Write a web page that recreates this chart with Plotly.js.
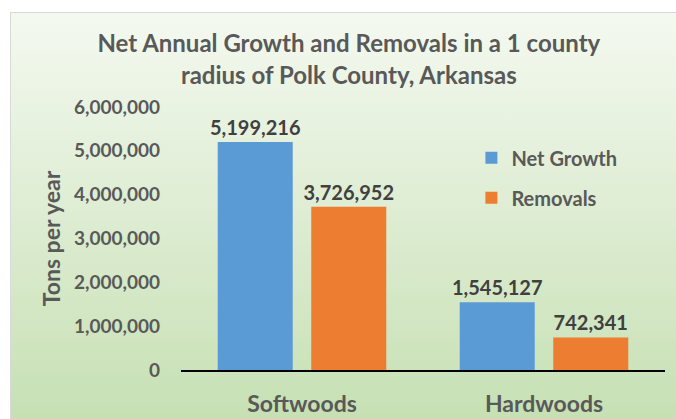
<!DOCTYPE html>
<html><head><meta charset="utf-8">
<script src="https://cdn.plot.ly/plotly-3.0.1.min.js"></script>
<style>
html,body{margin:0;padding:0;background:#fff;width:676px;height:419px;overflow:hidden;}
#box{position:absolute;left:10px;top:12px;width:666px;height:407px;border-left:1px solid #d9d9d9;border-top:1px solid #d9d9d9;
background:linear-gradient(to bottom,#f4f9f0 0%,#e2efd8 40%,#c6e0b3 100%);}
#chart{position:absolute;left:0;top:0;width:676px;height:419px;}
</style></head>
<body>
<div id="box"></div>
<div id="chart"></div>
<script>
const categories = ["Softwoods", "Hardwoods"];
const netGrowth = [5199216, 1545127];
const removals = [3726952, 742341];
const yTickVals = [0, 1000000, 2000000, 3000000, 4000000, 5000000, 6000000];
const yTickText = ["0", "1,000,000", "2,000,000", "3,000,000", "4,000,000", "5,000,000", "6,000,000"];

const FONT = "Lato, 'Open Sans', sans-serif";
const GRAY = "#595959";

const traces = [
  {type:"bar", name:"Net Growth", x:categories, y:netGrowth, marker:{color:"#5b9bd5"},
   texttemplate:"%{y:,}", textposition:"outside", cliponaxis:false, constraintext:"none", legendgroup:"a",
   textfont:{family:FONT, size:20, color:"#404040", weight:"bold"}, hoverinfo:"none"},
  {type:"bar", name:"Removals", x:categories, y:removals, marker:{color:"#ed7d31"},
   texttemplate:"%{y:,}", textposition:"outside", cliponaxis:false, constraintext:"none", legendgroup:"b",
   textfont:{family:FONT, size:20, color:"#404040", weight:"bold"}, hoverinfo:"none"}
];

const layout = {
  width:676, height:419,
  paper_bgcolor:"rgba(0,0,0,0)", plot_bgcolor:"rgba(0,0,0,0)",
  margin:{l:181, r:11, t:107, b:49},
  font:{family:FONT, color:GRAY},
  title:{text:"<b>Net Annual Growth and Removals in a 1 county<br>radius of Polk County, Arkansas</b>",
    x:0.516, xanchor:"center", y:0.875, yanchor:"middle",
    font:{family:FONT, size:24, color:GRAY}},
  barmode:"group", bargap:0.227, bargroupgap:0.198,
  xaxis:{showgrid:false, showline:true, linecolor:"#000", linewidth:1.5, ticks:"",
    tickfont:{family:FONT, size:23, color:GRAY, weight:"bold"}, ticklabelstandoff:13},
  yaxis:{range:[0,6000000], tickvals:yTickVals, ticktext:yTickText, showgrid:false, showline:false,
    zeroline:false, ticks:"", tickfont:{family:FONT, size:19, color:GRAY, weight:"bold"}, ticklabelstandoff:20,
    title:{text:"<b>Tons per year</b>", font:{family:FONT, size:23, color:GRAY}, standoff:6}},
  legend:{x:0.6, y:0.881, xanchor:"left", yanchor:"top", bgcolor:"rgba(0,0,0,0)",
    traceorder:"grouped", tracegroupgap:11, font:{family:FONT, size:20, color:GRAY, weight:"bold"}},
  showlegend:true
};

Plotly.newPlot("chart", traces, layout, {displayModeBar:false, staticPlot:true});
</script>
</body></html>
